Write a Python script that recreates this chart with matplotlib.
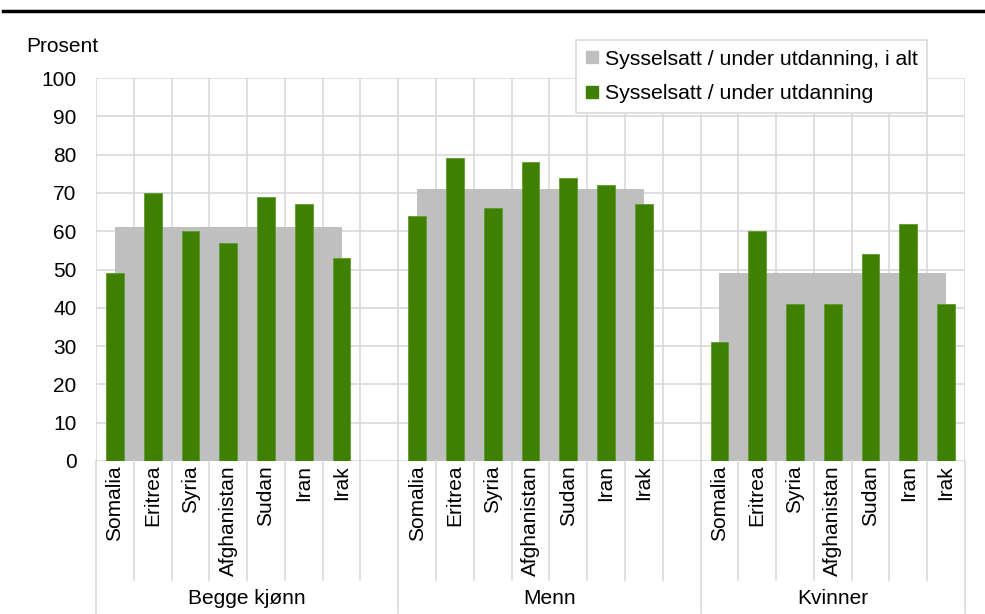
import matplotlib
matplotlib.use("Agg")
import matplotlib.pyplot as plt
import matplotlib.transforms as mtransforms
from matplotlib.lines import Line2D

plt.rcParams['font.family'] = ['Liberation Sans', 'DejaVu Sans']

# --- data ---
countries = ["Somalia", "Eritrea", "Syria", "Afghanistan", "Sudan", "Iran", "Irak"]
groups = ["Begge kjønn", "Menn", "Kvinner"]
green_begge = [49, 70, 60, 57, 69, 67, 53]
green_menn = [64, 79, 66, 78, 74, 72, 67]
green_kvinner = [31, 60, 41, 41, 54, 62, 41]
total_i_alt = [61, 71, 49]
label_total = "Sysselsatt / under utdanning, i alt"
label_green = "Sysselsatt / under utdanning"

GREEN = "#3f8000"
GRAY = "#bfbfbf"
GRID = "#d9d9d9"
W, H = 985, 614

def fx(px):
    return px / W

def fy(py):
    return 1 - py / H

fig = plt.figure(figsize=(W / 100, H / 100), dpi=100)
ax = fig.add_axes([fx(96), fy(461), fx(965) - fx(96), fy(78) - fy(461)])

green_series = [green_begge, green_menn, green_kvinner]
n_cat = len(countries)
step = n_cat + 1  # one blank category after each group
n_total = step * len(groups) - 1

for g, vals in enumerate(green_series):
    start = g * step
    xs = [start + i for i in range(n_cat)]
    # the "i alt" series is an area from first to last category centre
    ax.fill_between([xs[0], xs[-1]], 0, total_i_alt[g], color=GRAY, linewidth=0, zorder=2)
    ax.bar(xs, vals, width=0.47, color=GREEN, edgecolor="#5e9a30", linewidth=0.6, zorder=3)

ax.set_xlim(-0.5, n_total - 0.5)
ax.set_ylim(0, 100)
ax.set_yticks(range(0, 101, 10))
ax.set_xticks([])
ax.set_xticks([b - 0.5 for b in range(n_total + 1)], minor=True)
ax.grid(True, which="major", axis="y", color=GRID, linewidth=1.2, zorder=0)
ax.grid(True, which="minor", axis="x", color=GRID, linewidth=1.2, zorder=0)
ax.set_axisbelow(True)
for s in ax.spines.values():
    s.set_visible(False)
ax.tick_params(axis="y", length=0, pad=14, labelsize=15)
ax.tick_params(axis="x", which="both", length=0, labelbottom=False)

# category labels and divider lines under the axis
blend = mtransforms.blended_transform_factory(ax.transData, fig.transFigure)
for g in range(len(groups)):
    start = g * step
    for i, c in enumerate(countries):
        ax.text(start + i, fy(465), c, rotation=90, ha="center", va="top",
                fontsize=15, transform=blend)

group_edges = [-0.5] + [g * step + n_cat + 0.5 for g in range(len(groups) - 1)] + [n_total - 0.5]
for b in range(n_total + 1):
    xb = b - 0.5
    bottom = fy(613) if xb in group_edges else fy(580)
    fig.add_artist(Line2D([xb, xb], [fy(461), bottom], color=GRID, linewidth=1.2,
                          transform=blend))

for g, name in enumerate(groups):
    xc = (group_edges[g] + group_edges[g + 1]) / 2
    ax.text(xc, fy(598), name, ha="center", va="center", fontsize=15, transform=blend)

# y label and top rule
fig.text(fx(26), fy(47), "Prosent", ha="left", va="center", fontsize=15)
fig.add_artist(Line2D([fx(3), 1], [fy(11), fy(11)], color="black", linewidth=2.5))

# legend
handles = [
    Line2D([], [], marker="s", linestyle="none", markersize=8, color=GRAY),
    Line2D([], [], marker="s", linestyle="none", markersize=8, color=GREEN),
]
leg = ax.legend(handles, [label_total, label_green], loc="upper left",
                bbox_to_anchor=(fx(576), fy(40)), bbox_transform=fig.transFigure,
                fontsize=15.3, frameon=True, fancybox=False, framealpha=1,
                edgecolor=GRID, handlelength=0.6, handletextpad=0.3,
                labelspacing=0.74, borderpad=0.45, borderaxespad=0)
leg.get_frame().set_linewidth(1.2)
leg.set_zorder(5)

fig.savefig("out.png", dpi=100)
